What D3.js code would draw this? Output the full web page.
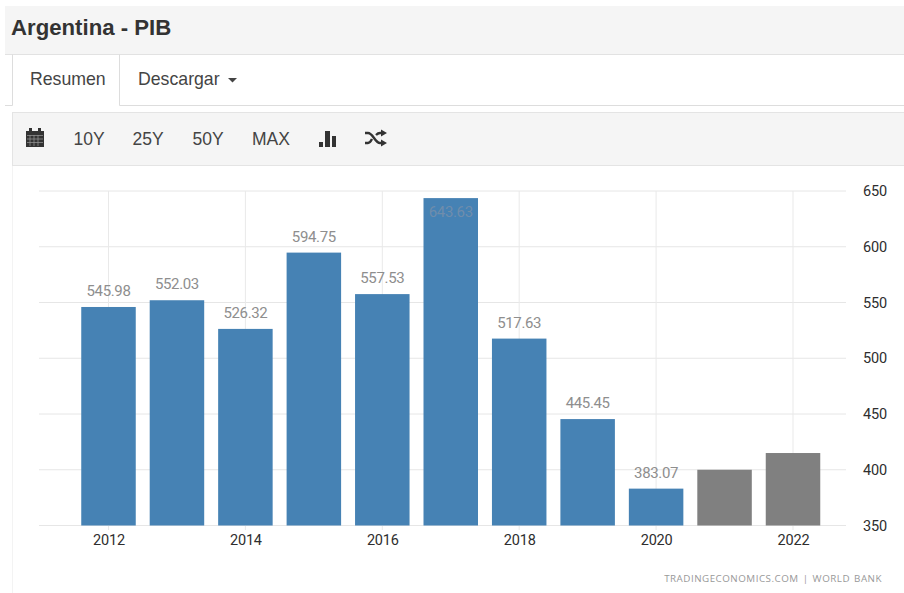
<!DOCTYPE html>
<html lang="es">
<head>
<meta charset="utf-8">
<title>Argentina - PIB</title>
<script src="https://cdn.jsdelivr.net/npm/d3@7"></script>
<style>
  html, body { margin: 0; padding: 0; background: #fff; overflow: hidden; }
  svg { display: block; }
  .ui { font-family: "Liberation Sans", Arial, sans-serif; fill: #444; }
  .tick text { font-family: Roboto, sans-serif; font-size: 14.5px; font-weight: 400; letter-spacing: -0.2px; fill: #2e2e2e; }
  .value { font-family: Roboto, sans-serif; font-size: 15px; letter-spacing: -0.35px; fill: #8e8e8e; text-anchor: middle; }
</style>
</head>
<body>
<svg id="chart" width="904" height="593"></svg>
<script>
// GDP in billions of USD; the last two years are forecasts without a label
const years = [2012, 2013, 2014, 2015, 2016, 2017, 2018, 2019, 2020, 2021, 2022];
const gdp = [545.98, 552.03, 526.32, 594.75, 557.53, 643.63, 517.63, 445.45, 383.07, 400, 415];
const labels = ["545.98", "552.03", "526.32", "594.75", "557.53", "643.63", "517.63", "445.45", "383.07", "", ""];
const forecastYears = [2021, 2022];
const yTicks = [350, 400, 450, 500, 550, 600, 650];
const xTicks = [2012, 2014, 2016, 2018, 2020, 2022];
const rangeButtons = ["10Y", "25Y", "50Y", "MAX"];
const rangeButtonX = [89, 148, 208, 271];

const svg = d3.select("#chart");

// Page header and tabs
svg.append("rect").attr("x", 5).attr("y", 6).attr("width", 899).attr("height", 48)
  .attr("fill", "#f5f5f5");
svg.append("line").attr("x1", 5).attr("x2", 904).attr("y1", 54.5).attr("y2", 54.5)
  .attr("stroke", "#e2e2e2");
svg.append("text").attr("class", "ui").attr("x", 11).attr("y", 35)
  .attr("font-size", 22.2).attr("font-weight", 700).style("fill", "#333")
  .text("Argentina - PIB");

svg.append("path").attr("d", "M5 105.5H12.5V54.5M119.5 54.5V105.5H904")
  .attr("fill", "none").attr("stroke", "#ddd");
svg.append("text").attr("class", "ui").attr("x", 30).attr("y", 85)
  .attr("font-size", 17.7).text("Resumen");
svg.append("text").attr("class", "ui").attr("x", 138).attr("y", 85)
  .attr("font-size", 17.7).text("Descargar");
svg.append("path").attr("d", "M228 78H237L232.5 82.5Z").attr("fill", "#444");

// Toolbar
svg.append("rect").attr("x", 12.5).attr("y", 112.5).attr("width", 892).attr("height", 53)
  .attr("fill", "#f5f5f5").attr("stroke", "#e4e4e4");
svg.selectAll("text.range").data(rangeButtons).join("text")
  .attr("class", "ui range")
  .attr("x", (d, i) => rangeButtonX[i]).attr("y", 145)
  .attr("text-anchor", "middle").attr("font-size", 17.5)
  .text(d => d);

// Calendar icon
const icons = svg.append("g").attr("fill", "#333");
icons.append("path").attr("d", "M26 131H44V147H26Z");
icons.append("path").attr("d", "M29 128H32V132H29ZM38 128H41V132H38Z");
icons.append("path").attr("d", "M27 135.5H43M27 139H43M27 142.5H43M30 135V146M34 135V146M38 135V146")
  .attr("stroke", "#9a9a9a").attr("stroke-width", 0.7).attr("fill", "none");
// Bar-type icon
icons.append("path").attr("d", "M319 142H323V147H319ZM325 131H330V147H325ZM332 136H336V147H332Z");
// Shuffle icon
icons.append("path")
  .attr("d", "M365 133H368C373 133 375 143 380 143H382M365 143H368C370 143 371 141 372 139M376 135C377 134 378 133 380 133H382")
  .attr("fill", "none").attr("stroke", "#333").attr("stroke-width", 2.4);
icons.append("path").attr("d", "M381 129.5L387 133L381 136.5ZM381 139.5L387 143L381 146.5Z");

// Chart panel edge
svg.append("line").attr("x1", 12.5).attr("x2", 12.5).attr("y1", 166).attr("y2", 593)
  .attr("stroke", "#f3f3f3");

// Scales
const x = d3.scaleLinear().domain([2012, 2022]).range([108.5, 793]);
const y = d3.scaleLinear().domain([350, 650]).range([525.5, 191]);
const barWidth = 54.5;

// Gridlines
svg.append("g").selectAll("line").data(yTicks).join("line")
  .attr("x1", 39).attr("x2", 846)
  .attr("y1", d => y(d)).attr("y2", d => y(d))
  .attr("stroke", "#e6e6e6");
svg.append("g").selectAll("line").data(xTicks).join("line")
  .attr("x1", d => x(d)).attr("x2", d => x(d))
  .attr("y1", 191).attr("y2", 530)
  .attr("stroke", "#e9e9e9");

// Bars
svg.append("g").selectAll("rect").data(years).join("rect")
  .attr("x", d => x(d) - barWidth / 2)
  .attr("width", barWidth)
  .attr("y", (d, i) => y(gdp[i]))
  .attr("height", (d, i) => y(350) - y(gdp[i]))
  .attr("fill", d => forecastYears.includes(d) ? "#808080" : "#4682b4");

// Value labels: the tallest bar carries its label inside, as it has no room above
svg.append("g").selectAll("text").data(years).join("text")
  .attr("class", "value")
  .attr("x", d => x(d))
  .attr("y", (d, i) => gdp[i] > 640 ? y(gdp[i]) + 19 : y(gdp[i]) - 11)
  .style("fill", (d, i) => gdp[i] > 640 ? "#6f8dac" : null)
  .text((d, i) => labels[i]);

// Axes
const xAxis = d3.axisBottom(x).tickValues(xTicks).tickFormat(d3.format("d")).tickSize(0).tickPadding(9);
svg.append("g").attr("transform", "translate(0,525.5)").call(xAxis)
  .call(g => g.select(".domain").remove());

const yAxis = d3.axisRight(y).tickValues(yTicks).tickSize(0).tickPadding(0);
svg.append("g").attr("transform", "translate(863,0)").call(yAxis)
  .call(g => g.select(".domain").remove());

// Source credit
svg.append("text").attr("x", 882).attr("y", 582).attr("text-anchor", "end")
  .attr("font-family", "Open Sans, sans-serif").attr("font-size", 9.8)
  .attr("letter-spacing", 0.5).attr("word-spacing", 1).attr("fill", "#999")
  .text("TRADINGECONOMICS.COM | WORLD BANK");
</script>
</body>
</html>
